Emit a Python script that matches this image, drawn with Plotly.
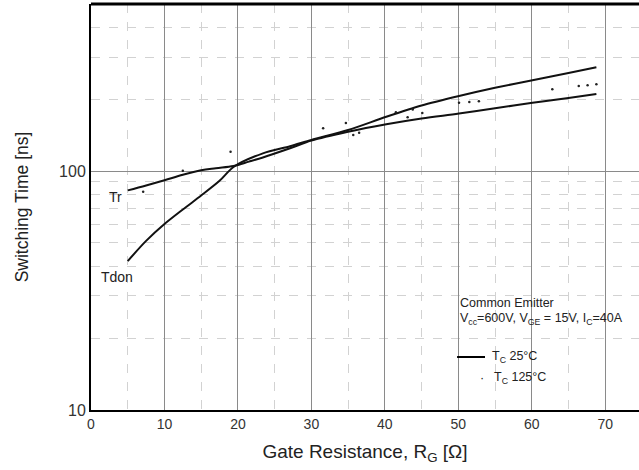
import math
import plotly.graph_objects as go

# Tdon, Tc = 25 C (solid)
tdon_x = [5, 7.5, 10, 12.5, 15, 17.5, 19.4, 23.4, 27.1, 30, 35, 40.2, 45, 50.1, 55, 60.1, 65, 68.8]
tdon_y = [42, 51, 60, 69, 79, 91, 104, 118.6, 127, 135, 148.5, 168.7, 188, 206, 223, 240, 257, 272]

# Tr, Tc = 25 C (solid)
tr_x = [5, 7.5, 10, 12.5, 15, 17, 19.4, 21.5, 23.4, 27.1, 30, 35, 40.2, 45, 50.1, 55, 60.1, 65, 68.8]
tr_y = [83, 87, 91.5, 96.5, 100.8, 102.8, 105, 109.5, 114, 124.5, 134, 146, 157, 166, 174, 183, 193, 202, 210]

# Tc = 125 C (dotted points)
hot_x = [7.1, 12.5, 19.0, 31.6, 34.7, 35.7, 36.5, 41.5, 43.1, 43.8, 45.1, 50.1, 51.5, 52.8, 62.8, 66.4, 67.6, 68.8]
hot_y = [81.9, 100.3, 120.4, 150.9, 159, 141.6, 144.6, 176, 168, 181, 175, 193, 194.5, 196, 220, 227, 228.5, 230.6]

x_ticks = [0, 10, 20, 30, 40, 50, 60, 70]
y_ticks = [10, 100]
y_minor = [20, 30, 40, 50, 60, 70, 80, 90, 200, 300, 400]

FONT = "Liberation Sans, Arial, sans-serif"

fig = go.Figure()
fig.add_trace(go.Scatter(x=tdon_x, y=tdon_y, mode="lines", line=dict(color="#111", width=2, shape="spline", smoothing=0.8),
                         showlegend=False, hoverinfo="skip"))
fig.add_trace(go.Scatter(x=tr_x, y=tr_y, mode="lines", line=dict(color="#111", width=2, shape="spline", smoothing=1),
                         showlegend=False, hoverinfo="skip"))
fig.add_trace(go.Scatter(x=hot_x, y=hot_y, mode="markers", marker=dict(color="#222", size=2.5),
                         showlegend=False, hoverinfo="skip"))

fig.update_layout(
    width=639, height=470,
    margin=dict(l=91, r=0, t=4, b=60, autoexpand=False),
    paper_bgcolor="white", plot_bgcolor="white",
    font=dict(family=FONT, size=14, color="#333"),
    xaxis=dict(range=[0, 74.6], tickvals=x_ticks, showgrid=True, gridcolor="#8a8a8a", gridwidth=1,
               tickfont=dict(size=14),
               minor=dict(dtick=5, showgrid=True, gridcolor="#d2d2d2", griddash="dash", gridwidth=1),
               showline=True, linecolor="black", linewidth=2, ticks="", zeroline=False, automargin=False,
               title=dict(text="Gate Resistance, R<sub>G</sub> [Ω]", font=dict(size=19, color="#222"), standoff=14)),
    yaxis=dict(type="log", range=[1, math.log10(500)], tickvals=y_ticks, showgrid=True, gridcolor="#8a8a8a",
               gridwidth=1, tickfont=dict(size=16),
               minor=dict(tickvals=y_minor, showgrid=True, gridcolor="#d2d2d2", griddash="dash", gridwidth=1),
               showline=True, linecolor="black", linewidth=2, ticks="", zeroline=False, automargin=False,
               title=dict(text="Switching Time [ns]", font=dict(size=17.5, color="#222"), standoff=26)),
)

# top frame line
fig.add_shape(type="line", xref="paper", yref="paper", x0=0, x1=1, y0=1, y1=1,
              line=dict(color="black", width=3))

fig.add_annotation(x=3.3, y=math.log10(77.8), text="Tr", showarrow=False, font=dict(size=14, color="#222"))
fig.add_annotation(x=3.5, y=math.log10(36), text="Tdon", showarrow=False, font=dict(size=14, color="#222"))

ann = dict(xref="paper", yref="paper", showarrow=False, yanchor="middle", font=dict(size=12.5, color="#222"))
fig.add_annotation(x=0.670, y=0.2635, xanchor="left", text="Common Emitter", **ann)
fig.add_annotation(x=0.670, y=0.224, xanchor="left",
                   text="V<sub>cc</sub>=600V, V<sub>GE</sub> = 15V, I<sub>C</sub>=40A", **ann)
fig.add_shape(type="line", xref="paper", yref="paper", x0=0.668, x1=0.719, y0=0.1305, y1=0.1305,
              line=dict(color="black", width=2))
fig.add_annotation(x=0.728, y=0.1305, xanchor="left", text="T<sub>C</sub> 25°C", **ann)
fig.add_annotation(x=0.713, y=0.0788, xanchor="center", text="·", **ann)
fig.add_annotation(x=0.732, y=0.0788, xanchor="left", text="T<sub>C</sub> 125°C", **ann)

fig.write_html("out.html", config={"displayModeBar": False},
               post_script="document.body.style.margin='0';document.body.style.overflow='hidden';")
